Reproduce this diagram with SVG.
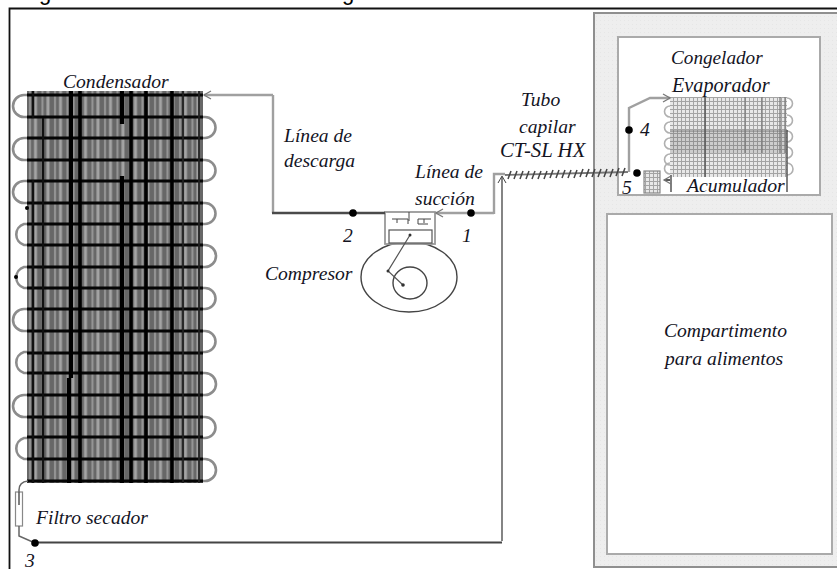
<svg xmlns="http://www.w3.org/2000/svg" width="837" height="569" viewBox="0 0 837 569">
<style>
text{font-family:"Liberation Serif","Times New Roman",serif;font-style:italic;font-size:19.6px;fill:#14141f}
text.top{font-family:"Liberation Sans",Arial,sans-serif;font-style:normal;font-size:22px;fill:#000}
.pipe{fill:none;stroke:#a0a0a0;stroke-width:2.400}
.dark{fill:none;stroke:#4a4a4a;stroke-width:2.400}
.thin{fill:none;stroke:#333;stroke-width:1.200}
.dot{fill:#000}
.bend{fill:none;stroke:#8c8c8c;stroke-width:2.600}
.ebend{fill:none;stroke:#b0b0b0;stroke-width:1.600}
.h{stroke:#050505;stroke-width:3.200}
.v{stroke:#000;stroke-width:3.600}
.ev{stroke:#777;stroke-width:1.200}
</style>
<defs>
<pattern id="stripes" width="12.500" height="8" patternUnits="userSpaceOnUse" x="27" y="0">
<rect width="12.500" height="8" fill="#676767"/>
<rect x="2" width="2" height="8" fill="#979797"/>
<rect x="7" width="3" height="8" fill="#a4a4a4"/>
</pattern>
<pattern id="mesh" width="4" height="4" patternUnits="userSpaceOnUse">
<rect width="4" height="4" fill="#e8e8e8"/>
<path d="M0 1.500H4M1.500 0V4" stroke="#a4a4a4" stroke-width="1"/>
</pattern>
<pattern id="dots" width="4" height="4" patternUnits="userSpaceOnUse">
<rect width="4" height="4" fill="#eeeeee"/>
<rect width="1" height="1" fill="#e6e6e6"/>
</pattern>
<marker id="open" markerWidth="10" markerHeight="10" refX="8" refY="5" orient="auto" markerUnits="userSpaceOnUse">
<path d="M1 1L8 5L1 9" fill="none" stroke="#777" stroke-width="1.300"/>
</marker>
</defs>

<text class="top" x="39" y="0">g</text>
<text class="top" x="342" y="0">g</text>
<path d="M9.500 569V8.500H837" fill="none" stroke="#111" stroke-width="1.800"/>

<g id="refrigerador">
<rect x="594" y="13" width="246" height="554" fill="url(#dots)" stroke="#8f8f8f" stroke-width="2"/>
</g>
<g id="congelador">
<rect x="618" y="37" width="202" height="158" fill="#fff" stroke="#aaa" stroke-width="2"/>
<text x="671" y="64" style="font-size:19.200px">Congelador</text>
</g>
<g id="compartimento">
<rect x="607" y="214" width="225" height="340" fill="#fff" stroke="#aaa" stroke-width="2"/>
<text x="664" y="337">Compartimento</text>
<text x="665" y="365">para alimentos</text>
</g>

<g id="condensador">
<path class="bend" d="M28 95H24a11 11 0 0 0 0 22H28M28 138H24a11 11 0 0 0 0 22H28M28 181H24a11 11 0 0 0 0 22H28M28 224H24a11 11 0 0 0 0 21H28M28 267H24a11 11 0 0 0 0 21H28M28 309H24a11 11 0 0 0 0 22H28M28 352H24a11 11 0 0 0 0 21H28M28 395H24a11 11 0 0 0 0 22H28M28 438H24a11 11 0 0 0 0 21H28"/>
<path class="bend" d="M202 117H205a10.500 10.500 0 0 1 0 21H202M202 160H205a10.500 10.500 0 0 1 0 21H202M202 203H205a10.500 10.500 0 0 1 0 21H202M202 245H205a10.500 10.500 0 0 1 0 22H202M202 288H205a10.500 10.500 0 0 1 0 21H202M202 331H205a10.500 10.500 0 0 1 0 21H202M202 373H205a10.500 10.500 0 0 1 0 22H202M202 417H205a10.500 10.500 0 0 1 0 21H202M202 459H205a10.500 10.500 0 0 1 0 22H202"/>
<rect x="27" y="91" width="176" height="392" fill="url(#stripes)"/>
<path class="h" d="M27 95H203M27 117H203M27 138H203M27 160H203M27 181H203M27 203H203M27 224H203M27 245H203M27 267H203M27 288H203M27 309H203M27 331H203M27 353H203M27 373H203M27 395H203M27 417H203M27 437H203M27 459H203M27 481H203"/>
<path class="v" d="M80 91V483M131 91V483M146 91V483M172 91V483"/>
<path d="M33 91V118M33 180V483M43 118V483" stroke="#111" stroke-width="2.400" fill="none"/>
<path d="M71 91V378M69 378V483M122 91V124M122 176V483" stroke="#000" stroke-width="4.200" fill="none"/>
<path d="M199 91V483M183 91V483" stroke="#222" stroke-width="1.800" fill="none"/>
<circle class="dot" cx="16" cy="277" r="2"/>
<circle class="dot" cx="27" cy="208" r="2"/>
<text x="63" y="88">Condensador</text>
</g>

<g id="filtro">
<rect x="15.500" y="492" width="7" height="34" fill="#fff" stroke="#888" stroke-width="1.200"/>
<path d="M19 492V505" stroke="#555" stroke-width="1.500"/>
<text x="36" y="524">Filtro secador</text>
</g>

<g id="compresor">
<ellipse cx="409" cy="277" rx="48" ry="35" fill="#fff" stroke="#444" stroke-width="1.400"/>
<rect x="385" y="212" width="50" height="32" fill="#fff" stroke="#999" stroke-width="1.800"/>
<rect x="389" y="230" width="43" height="13" fill="#fff" stroke="#555" stroke-width="1.200"/>
<path d="M392 219H408V224M409 212V221M418 224V219H431M397 219V223M424 219V223M418 224H428" fill="none" stroke="#444" stroke-width="1"/>
<ellipse cx="410" cy="283" rx="17" ry="16" fill="none" stroke="#444" stroke-width="1.400"/>
<path d="M410 235L388 271L403 285" fill="none" stroke="#555" stroke-width="1.200"/>
<circle cx="410" cy="235" r="1.500" fill="#333"/>
<circle cx="388" cy="271" r="1.500" fill="#333"/>
<circle cx="403" cy="285" r="1.800" fill="#333"/>
<text x="265" y="280">Compresor</text>
</g>

<g id="evaporador">
<path class="ebend" d="M670 106a4 4 0 0 0 0 11M670 122a4 4 0 0 0 0 11M670 138a4 4 0 0 0 0 11M670 154a4 4 0 0 0 0 11M670 163a4 4 0 0 0 0 11"/>
<path class="ebend" d="M787 98a5 5 0 0 1 0 11M787 115a5 5 0 0 1 0 11M787 131a5 5 0 0 1 0 11M787 147a5 5 0 0 1 0 11M787 163a5 5 0 0 1 0 12"/>
<rect x="670" y="97" width="117" height="80" fill="url(#mesh)"/>
<rect x="670" y="131" width="117" height="22" fill="#555" fill-opacity=".18"/>
<path class="ev" d="M745 97V153M762 97V153M780 97V153M785 97V153M670 131H788"/>
<path d="M705 97V177M787 130V192M671 175V192" stroke="#555" stroke-width="1.500" fill="none"/>
<path d="M670 180H664" stroke="#222" stroke-width="1.500" marker-end="url(#open)"/>
<text x="672" y="92" style="font-size:20.200px">Evaporador</text>
<text x="687" y="192" style="font-size:19.800px">Acumulador</text>
</g>

<g id="acumulador">
<rect x="644" y="171" width="16" height="22" fill="url(#mesh)" stroke="#888" stroke-width="1.200"/>
</g>

<g id="connectors">
<path class="pipe" d="M273 95H204" marker-end="url(#open)"/>
<path class="pipe" d="M273 95V213"/>
<path class="dark" d="M272 213H385"/>
<path class="pipe" d="M494 213H436" marker-end="url(#open)"/>
<path class="pipe" d="M494 214V174H505"/>
<path d="M505 175L628 172" fill="none" stroke="#777" stroke-width="1.800"/>
<path class="thin" d="M502 177V541"/>
<path d="M498 183L502 176L506 183" fill="none" stroke="#444" stroke-width="1"/>
<path d="M35 542.500H502" stroke="#a0a0a0" stroke-width="3" fill="none"/>
<path d="M35 542.500H502" stroke="#444" stroke-width="1" fill="none"/>
<path d="M28 481Q19 482 19 490V492M19 526V536L35 543" fill="none" stroke="#666" stroke-width="1.500"/>
<path d="M508 179l3 -8M514 179l3 -8M520 179l3 -8M526 179l3 -8M532 179l3 -8M538 179l3 -8M544 179l3 -8M550 178l3 -8M556 178l3 -8M562 178l3 -8M568 178l3 -8M574 178l3 -8M580 177l3 -8M586 177l3 -8M592 177l3 -8M598 177l3 -8M604 177l3 -8M610 177l3 -8M616 176l3 -8M622 176l3 -8" stroke="#444" stroke-width="1.500" fill="none"/>
<path class="pipe" d="M629 172V108L650 98H670" marker-end="url(#open)"/>
</g>

<g id="puntos">
<circle class="dot" cx="353" cy="213" r="3.800"/>
<circle class="dot" cx="471" cy="213" r="3.800"/>
<circle class="dot" cx="35" cy="543" r="3.800"/>
<circle class="dot" cx="629" cy="130" r="3.800"/>
<circle class="dot" cx="637" cy="173" r="3.800"/>
<text x="343" y="242">2</text>
<text x="462" y="242">1</text>
<text x="25" y="567">3</text>
<text x="640" y="136">4</text>
<text x="622" y="194">5</text>
</g>

<g id="etiquetas">
<text x="284" y="142">Línea de</text>
<text x="284" y="167">descarga</text>
<text x="415" y="178">Línea de</text>
<text x="415" y="205">succión</text>
<text x="521" y="106">Tubo</text>
<text x="519" y="133">capilar</text>
<text x="500" y="157" style="font-size:20.800px">CT-SL HX</text>
</g>
</svg>
